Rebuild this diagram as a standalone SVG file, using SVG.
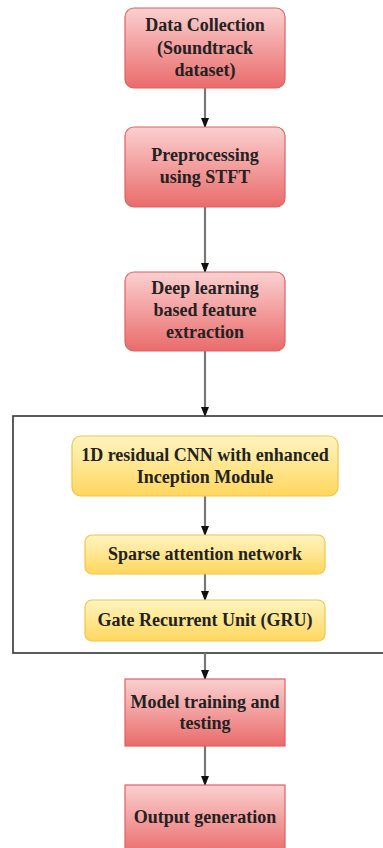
<svg xmlns="http://www.w3.org/2000/svg" width="383" height="848" viewBox="0 0 383 848">
<defs>
<linearGradient id="red" x1="0" y1="0" x2="0" y2="1">
<stop offset="0" stop-color="#fbd0d0"/>
<stop offset="1" stop-color="#ea6b6b"/>
</linearGradient>
<linearGradient id="yel" x1="0" y1="0" x2="0" y2="1">
<stop offset="0" stop-color="#fff4c0"/>
<stop offset="1" stop-color="#ffd75e"/>
</linearGradient>
<marker id="ah" markerWidth="10" markerHeight="8" refX="9" refY="4" orient="auto" markerUnits="userSpaceOnUse">
<path d="M0,0 L10,4 L0,8 Z" fill="#111"/>
</marker>
</defs>
<style>
.r{fill:url(#red);stroke:#e06060;stroke-width:1.2}
.y{fill:url(#yel);stroke:#f1c548;stroke-width:1.2}
.t{font-family:'Liberation Serif','DejaVu Serif',serif;font-weight:700;font-size:18px;fill:#222;text-anchor:middle}
.c{stroke:#777;stroke-width:2.2;fill:none;marker-end:url(#ah)}
</style>
<rect width="383" height="848" fill="#fff"/>
<g id="container">
<rect x="13" y="416" width="380" height="237" fill="#fff" stroke="#333" stroke-width="1.6"/>
</g>
<g id="connectors">
<line class="c" x1="205" y1="88" x2="205" y2="127"/>
<line class="c" x1="205" y1="207" x2="205" y2="272"/>
<line class="c" x1="205" y1="351" x2="205" y2="416"/>
<line class="c" x1="205" y1="496" x2="205" y2="535"/>
<line class="c" x1="205" y1="574" x2="205" y2="600"/>
<line class="c" x1="205" y1="653" x2="205" y2="679"/>
<line class="c" x1="205" y1="746" x2="205" y2="785"/>
</g>
<g id="n1">
<rect class="r" x="125" y="8" width="160" height="80" rx="9"/>
<text class="t" x="205" y="31">Data Collection</text>
<text class="t" x="205" y="54">(Soundtrack</text>
<text class="t" x="205" y="76">dataset)</text>
</g>
<g id="n2">
<rect class="r" x="125" y="127" width="160" height="80" rx="9"/>
<text class="t" x="205" y="161">Preprocessing</text>
<text class="t" x="205" y="183">using STFT</text>
</g>
<g id="n3">
<rect class="r" x="125" y="272" width="160" height="79" rx="9"/>
<text class="t" x="205" y="294">Deep learning</text>
<text class="t" x="205" y="316">based feature</text>
<text class="t" x="205" y="338">extraction</text>
</g>
<g id="n4">
<rect class="y" x="72" y="436" width="266" height="60" rx="9"/>
<text class="t" x="205" y="461">1D residual CNN with enhanced</text>
<text class="t" x="205" y="483">Inception Module</text>
</g>
<g id="n5">
<rect class="y" x="85" y="535" width="240" height="39" rx="7"/>
<text class="t" x="205" y="560">Sparse attention network</text>
</g>
<g id="n6">
<rect class="y" x="85" y="600" width="240" height="41" rx="7"/>
<text class="t" x="205" y="626">Gate Recurrent Unit (GRU)</text>
</g>
<g id="n7">
<rect class="r" x="125" y="679" width="160" height="67"/>
<text class="t" x="205" y="708">Model training and</text>
<text class="t" x="205" y="729">testing</text>
</g>
<g id="n8">
<rect class="r" x="125" y="785" width="160" height="70"/>
<text class="t" x="205" y="823">Output generation</text>
</g>
</svg>
